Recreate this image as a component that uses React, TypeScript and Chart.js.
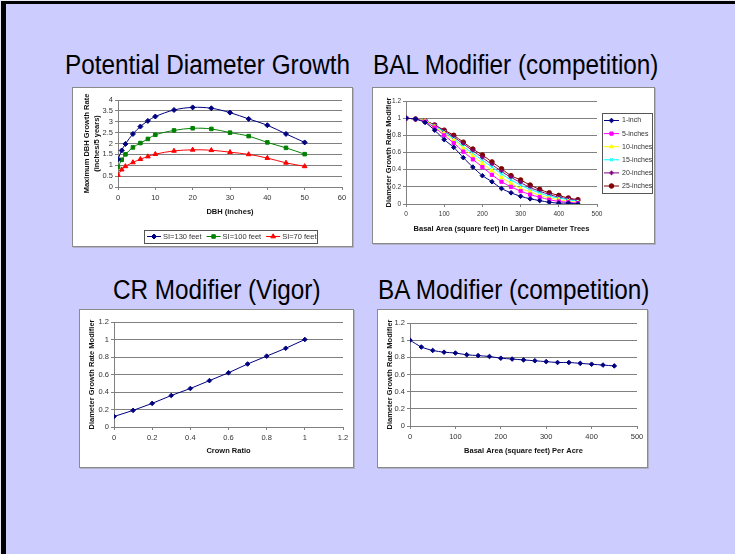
import React, { useEffect, useRef } from 'react';
import { Chart, registerables } from 'chart.js';
import { drawPoint } from 'chart.js/helpers';

Chart.register(...registerables);

const FONT = "'Liberation Sans', Arial, sans-serif";

// ---------- Chart 1: Potential Diameter Growth ----------
const dbhInches = [0, 1, 2, 4, 6, 8, 10, 15, 20, 25, 30, 35, 40, 45, 50];
const growthSI130 = [1.28, 1.68, 1.98, 2.44, 2.78, 3.04, 3.24, 3.54, 3.66, 3.62, 3.42, 3.13, 2.84, 2.44, 2.05];
const growthSI100 = [0.92, 1.25, 1.5, 1.82, 2.02, 2.21, 2.4, 2.6, 2.7, 2.67, 2.5, 2.34, 2.05, 1.8, 1.51];
const growthSI70 = [0.55, 0.8, 0.95, 1.13, 1.28, 1.4, 1.51, 1.66, 1.71, 1.69, 1.6, 1.5, 1.33, 1.11, 0.95];
const siLabels = ['SI=130 feet', 'SI=100 feet', 'SI=70 feet'];

// ---------- Chart 2: BAL Modifier ----------
const balArea = [0, 25, 50, 75, 100, 125, 150, 175, 200, 225, 250, 275, 300, 325, 350, 375, 400, 425, 450];
const bal1inch = [1.0, 0.99, 0.95, 0.86, 0.75, 0.66, 0.54, 0.43, 0.33, 0.26, 0.18, 0.13, 0.09, 0.06, 0.04, 0.02, 0.01, 0.01, 0.0];
const bal5inch = [1.0, 0.99, 0.96, 0.89, 0.8, 0.71, 0.61, 0.52, 0.43, 0.34, 0.26, 0.2, 0.15, 0.11, 0.08, 0.05, 0.03, 0.02, 0.01];
const bal10inch = [1.0, 0.99, 0.97, 0.9, 0.82, 0.74, 0.65, 0.56, 0.47, 0.39, 0.31, 0.24, 0.18, 0.14, 0.1, 0.07, 0.05, 0.03, 0.02];
const bal15inch = [1.0, 0.99, 0.97, 0.91, 0.84, 0.76, 0.67, 0.59, 0.51, 0.43, 0.35, 0.28, 0.22, 0.17, 0.13, 0.09, 0.07, 0.05, 0.03];
const bal20inch = [1.0, 0.99, 0.97, 0.92, 0.85, 0.78, 0.7, 0.62, 0.54, 0.46, 0.38, 0.31, 0.25, 0.19, 0.15, 0.11, 0.08, 0.06, 0.04];
const bal25inch = [1.0, 0.99, 0.97, 0.92, 0.86, 0.8, 0.72, 0.64, 0.57, 0.49, 0.41, 0.33, 0.28, 0.22, 0.17, 0.13, 0.1, 0.07, 0.05];
const balLabels = ['1-inch', '5-inches', '10-inches', '15-inches', '20-inches', '25-inches'];

// ---------- Chart 3: CR Modifier ----------
const crownRatio = [0, 0.1, 0.2, 0.3, 0.4, 0.5, 0.6, 0.7, 0.8, 0.9, 1.0];
const crModifier = [0.12, 0.19, 0.27, 0.36, 0.44, 0.53, 0.62, 0.72, 0.81, 0.9, 1.0];

// ---------- Chart 4: BA Modifier ----------
const basalArea = [0, 25, 50, 75, 100, 125, 150, 175, 200, 225, 250, 275, 300, 325, 350, 375, 400, 425, 450];
const baModifier = [1.0, 0.92, 0.88, 0.86, 0.85, 0.83, 0.82, 0.81, 0.79, 0.78, 0.77, 0.76, 0.75, 0.74, 0.74, 0.73, 0.72, 0.71, 0.7];

// ---------- titles ----------
const slideTitles = ['Potential Diameter Growth', 'BAL Modifier (competition)', 'CR Modifier (Vigor)', 'BA Modifier (competition)'];
const axisTitles = {
  c1x: 'DBH (inches)',
  c1y: ['Maximum DBH Growth Rate', '(inches/5 years)'],
  c2x: 'Basal Area (square feet) In Larger Diameter Trees',
  c2y: 'Diameter Growth Rate Modifier',
  c3x: 'Crown Ratio',
  c3y: 'Diameter Growth Rate Modifier',
  c4x: 'Basal Area (square feet) Per Acre',
  c4y: 'Diameter Growth Rate Modifier',
};

// ---------- custom Excel-like legend ----------
const excelLegend = {
  id: 'excelLegend',
  afterDraw(chart: any, _args: any, opts: any) {
    if (!opts || !opts.display) return;
    const ctx = chart.ctx;
    ctx.save();
    ctx.font = `${opts.fontSize}px ${FONT}`;
    ctx.lineWidth = 1;
    ctx.strokeStyle = opts.borderColor;
    ctx.strokeRect(opts.box.x + 0.5, opts.box.y + 0.5, opts.box.w, opts.box.h);
    let x = opts.start.x;
    let y = opts.start.y;
    chart.data.datasets.forEach((ds: any) => {
      ctx.strokeStyle = ds.borderColor;
      ctx.lineWidth = 1;
      ctx.beginPath();
      ctx.moveTo(x, y + 0.5);
      ctx.lineTo(x + opts.sample, y + 0.5);
      ctx.stroke();
      ctx.fillStyle = ds.pointBackgroundColor;
      ctx.strokeStyle = ds.pointBorderColor;
      drawPoint(ctx, { pointStyle: ds.pointStyle, radius: ds.pointRadius, rotation: 0, borderWidth: 1 }, x + opts.sample / 2, y + 0.5);
      ctx.fillStyle = opts.color;
      ctx.textBaseline = 'middle';
      ctx.textAlign = 'left';
      const tx = x + opts.sample + opts.gap;
      ctx.fillText(ds.label, tx, y + 0.5);
      if (opts.horizontal) x = tx + ctx.measureText(ds.label).width + opts.itemGap;
      else y += opts.step;
    });
    ctx.restore();
  },
};
Chart.register(excelLegend);

function series(label: string, xs: number[], ys: number[], color: string, style: string, radius: number, tension: number) {
  return {
    label,
    data: xs.map((x, i) => ({ x, y: ys[i] })),
    borderColor: color,
    backgroundColor: color,
    pointBackgroundColor: color,
    pointBorderColor: color,
    pointStyle: style,
    pointRadius: radius,
    pointBorderWidth: 1,
    borderWidth: 1,
    tension,
    fill: false,
  };
}

const GRID = '#808080';
const TICK_COLOR = '#333';
const fmt = (v: any) => String(Number(Number(v).toFixed(3)));

function buildOptions(p: any) {
  const tickFont = { family: FONT, size: p.tickSize || 7.5 };
  const titleFont = { family: FONT, size: 7.5, weight: 'bold', lineHeight: 1.3 };
  return {
    animation: false,
    responsive: false,
    maintainAspectRatio: false,
    events: [],
    layout: { padding: { left: 0, right: p.padRight, top: p.padTop, bottom: p.padBottom } },
    plugins: {
      legend: { display: false },
      tooltip: { enabled: false },
      excelLegend: p.legend || { display: false },
    },
    scales: {
      x: {
        type: 'linear',
        min: p.x.min,
        max: p.x.max,
        ticks: { stepSize: p.x.step, font: tickFont, color: TICK_COLOR, padding: 3, maxRotation: 0, autoSkip: false, callback: fmt },
        grid: { drawOnChartArea: false, drawTicks: true, tickLength: 3, color: GRID, tickColor: GRID },
        border: { color: GRID, width: 1 },
        title: { display: true, text: p.x.title, font: titleFont, color: '#111', padding: { top: 0, bottom: p.x.titlePad } },
        afterFit: (s: any) => { s.height = p.xH; },
      },
      y: {
        type: 'linear',
        min: p.y.min,
        max: p.y.max,
        ticks: { stepSize: p.y.step, font: tickFont, color: TICK_COLOR, padding: 2, autoSkip: false, callback: fmt },
        grid: { drawOnChartArea: true, drawTicks: true, tickLength: 3, color: GRID, tickColor: GRID },
        border: { color: GRID, width: 1 },
        title: { display: true, text: p.y.title, font: titleFont, color: '#111', padding: { top: p.y.titlePad, bottom: 0 } },
        afterFit: (s: any) => { s.width = p.yW; },
      },
    },
  };
}

const config1 = () => ({
  type: 'line',
  data: {
    datasets: [
      series(siLabels[0], dbhInches, growthSI130, '#000080', 'rectRot', 2.5, 0.35),
      series(siLabels[1], dbhInches, growthSI100, '#008000', 'rect', 2.5, 0.35),
      series(siLabels[2], dbhInches, growthSI70, '#FF0000', 'triangle', 2.7, 0.35),
    ],
  },
  options: buildOptions({
    yW: 45, xH: 31, padRight: 10, padTop: 12, padBottom: 28,
    x: { min: 0, max: 60, step: 10, title: axisTitles.c1x, titlePad: 1 },
    y: { min: 0, max: 4, step: 0.5, title: axisTitles.c1y, titlePad: 9 },
    legend: {
      display: true, horizontal: true, fontSize: 7.5, color: '#333', borderColor: '#555',
      box: { x: 71, y: 142, w: 173, h: 13 },
      start: { x: 74, y: 148 }, sample: 14, gap: 2, itemGap: 5,
    },
  }),
});

const config2 = () => ({
  type: 'line',
  data: {
    datasets: [
      series(balLabels[0], balArea, bal1inch, '#000080', 'rectRot', 2.3, 0.2),
      series(balLabels[1], balArea, bal5inch, '#FF00FF', 'rect', 2.3, 0.2),
      series(balLabels[2], balArea, bal10inch, '#FFFF00', 'triangle', 2.3, 0.2),
      series(balLabels[3], balArea, bal15inch, '#00FFFF', 'crossRot', 2.3, 0.2),
      series(balLabels[4], balArea, bal20inch, '#800080', 'star', 2.3, 0.2),
      series(balLabels[5], balArea, bal25inch, '#800000', 'circle', 2.3, 0.2),
    ],
  },
  options: buildOptions({
    yW: 33, xH: 39, padRight: 57, padTop: 13, padBottom: 0, tickSize: 6.5,
    x: { min: 0, max: 500, step: 100, title: axisTitles.c2x, titlePad: 9 },
    y: { min: 0, max: 1.2, step: 0.2, title: axisTitles.c2y, titlePad: 11.5 },
    legend: {
      display: true, horizontal: false, fontSize: 7, color: '#333', borderColor: '#555',
      box: { x: 229, y: 25, w: 50, h: 80 },
      start: { x: 231, y: 32 }, sample: 15, gap: 3, step: 13.1,
    },
  }),
});

const config3 = () => ({
  type: 'line',
  data: { datasets: [series('CR Modifier', crownRatio, crModifier, '#000080', 'rectRot', 2.3, 0)] },
  options: buildOptions({
    yW: 34, xH: 40, padRight: 10, padTop: 12, padBottom: 0,
    x: { min: 0, max: 1.2, step: 0.2, title: axisTitles.c3x, titlePad: 11 },
    y: { min: 0, max: 1.2, step: 0.2, title: axisTitles.c3y, titlePad: 7 },
  }),
});

const config4 = () => ({
  type: 'line',
  data: { datasets: [series('BA Modifier', basalArea, baModifier, '#000080', 'rectRot', 2.3, 0.2)] },
  options: buildOptions({
    yW: 32, xH: 41, padRight: 10, padTop: 13, padBottom: 0,
    x: { min: 0, max: 500, step: 100, title: axisTitles.c4x, titlePad: 11 },
    y: { min: 0, max: 1.2, step: 0.2, title: axisTitles.c4y, titlePad: 7 },
  }),
});

function ChartBox(props: { left: number; top: number; width: number; height: number; config: () => any }) {
  const ref = useRef<HTMLCanvasElement>(null);
  useEffect(() => {
    const chart = new Chart(ref.current as HTMLCanvasElement, props.config());
    return () => chart.destroy();
  }, []);
  const w = props.width - 2;
  const h = props.height - 2;
  return (
    <div
      style={{
        position: 'absolute', left: props.left, top: props.top, width: props.width, height: props.height,
        boxSizing: 'border-box', background: '#fff', border: '1px solid #8a8a8a', boxShadow: '1px 1px 0 #b0b0c8',
      }}
    >
      <canvas ref={ref} width={w} height={h} style={{ display: 'block', width: w, height: h }} />
    </div>
  );
}

function Title(props: { text: string; left: number; baseline: number }) {
  const size = 27;
  return (
    <div
      style={{
        position: 'absolute', left: props.left, top: props.baseline - 0.905 * size + 0.06 * size, fontFamily: FONT, fontSize: size,
        lineHeight: `${size}px`, color: '#000', whiteSpace: 'nowrap', transform: 'scaleX(0.9)', transformOrigin: 'left top',
      }}
    >
      {props.text}
    </div>
  );
}

export default function App() {
  return (
    <div style={{ position: 'absolute', left: 0, top: 0, width: 735, height: 554, overflow: 'hidden', background: '#CCCCFF' }}>
      <div style={{ position: 'absolute', left: 0, top: 0, width: 735, height: 1, background: '#e8e8f0' }} />
      <div style={{ position: 'absolute', left: 0, top: 0, width: 1, height: 554, background: '#e8e8f0' }} />
      <div style={{ position: 'absolute', left: 1, top: 1, width: 734, height: 3, background: '#000' }} />
      <div style={{ position: 'absolute', left: 1, top: 1, width: 5, height: 553, background: '#000' }} />
      <Title text={slideTitles[0]} left={65} baseline={75} />
      <Title text={slideTitles[1]} left={373} baseline={75} />
      <Title text={slideTitles[2]} left={113} baseline={300} />
      <Title text={slideTitles[3]} left={378} baseline={300} />
      <ChartBox left={72} top={87} width={281} height={160} config={config1} />
      <ChartBox left={372} top={87} width={283} height={157} config={config2} />
      <ChartBox left={79} top={309} width={275} height={159} config={config3} />
      <ChartBox left={377} top={309} width={271} height={159} config={config4} />
    </div>
  );
}
